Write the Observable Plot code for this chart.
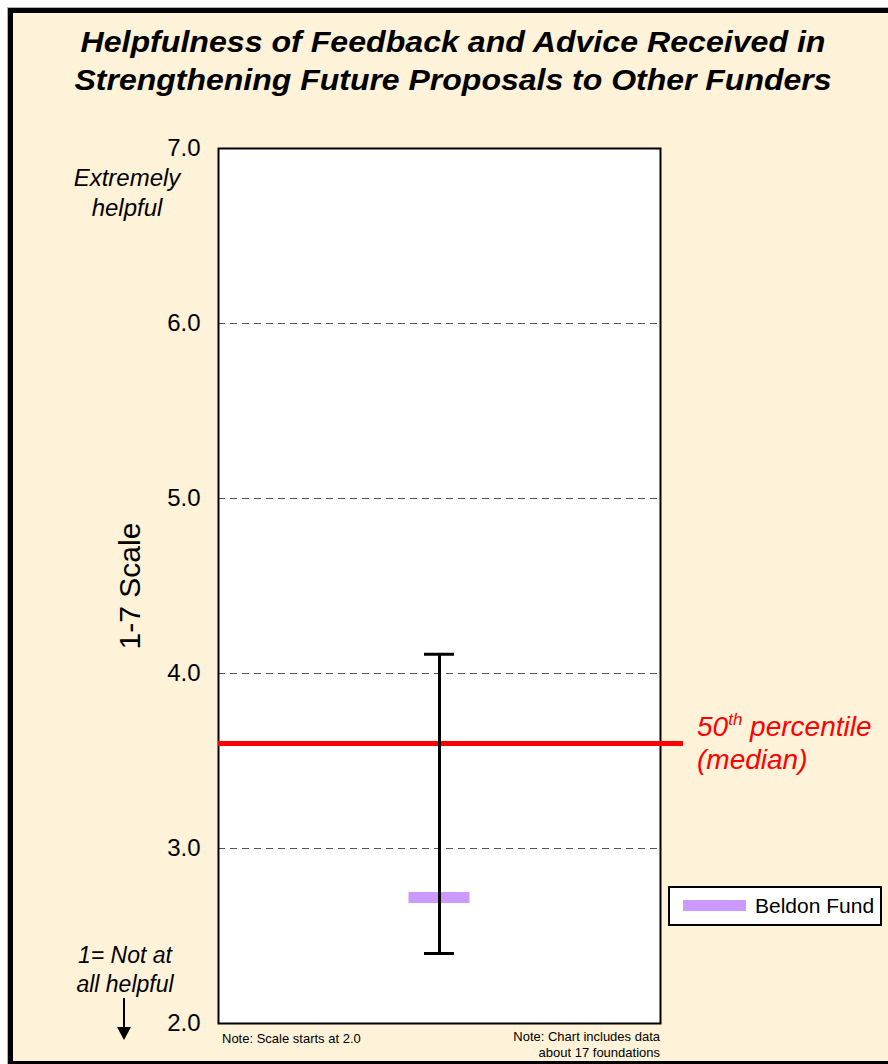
<!DOCTYPE html>
<html>
<head>
<meta charset="utf-8">
<script src="https://cdn.jsdelivr.net/npm/d3@7"></script>
<script src="https://cdn.jsdelivr.net/npm/@observablehq/plot@0.6"></script>
<style>
  body { margin: 0; background: #ffffff; }
  svg { display: block; }
</style>
</head>
<body>
<div id="chart"></div>
<script>
// Grantee ratings on a 1-7 scale
const funds = ["Beldon Fund"];
const fundScores = [2.72];
const rangeLow = [2.40];
const rangeHigh = [4.11];
const medianScore = 3.60;
const yTicks = [2, 3, 4, 5, 6, 7];
const gridTicks = [3, 4, 5, 6];
const foundationCount = 17;

const titleLines = [
  "Helpfulness of Feedback and Advice Received in",
  "Strengthening Future Proposals to Other Funders"
];

const FONT = "'Liberation Sans', Arial, Helvetica, sans-serif";
const CREAM = "#FEF2D8";
const PURPLE = "#CC99FF";

// one row per fund; the fund sits in the middle of the plotting area
const rows = funds.map((name, i) => ({
  name,
  pos: 0.5,
  score: fundScores[i],
  low: rangeLow[i],
  high: rangeHigh[i]
}));

const capHalf = 0.034;
const markHalf = 0.069;

const plot = Plot.plot({
  width: 888,
  height: 1064,
  marginLeft: 218,
  marginRight: 228,
  marginTop: 148,
  marginBottom: 41,
  style: { background: "transparent", fontFamily: FONT, overflow: "visible" },
  x: { domain: [0, 1], axis: null },
  y: { domain: [2, 7] },
  marks: [
    Plot.frame({ fill: "white" }),
    Plot.ruleY(gridTicks, { stroke: "#555", strokeWidth: 1, strokeDasharray: "7,5" }),
    Plot.frame({ stroke: "black", strokeWidth: 2 }),
    Plot.axisY({
      ticks: yTicks,
      tickFormat: d => d.toFixed(1),
      tickSize: 0,
      tickPadding: 18,
      fontSize: 24,
      fill: "black",
      label: null
    }),
    // median across foundations
    Plot.ruleY([medianScore], { x1: 0, x2: 1.052, stroke: "#FF0000", strokeWidth: 5, clip: false }),
    // fund score marker
    Plot.ruleY(rows, {
      y: "score",
      x1: d => d.pos - markHalf,
      x2: d => d.pos + markHalf,
      stroke: PURPLE,
      strokeWidth: 11
    }),
    // range across foundations
    Plot.ruleX(rows, { x: "pos", y1: "low", y2: "high", stroke: "black", strokeWidth: 3 }),
    Plot.ruleY(rows, { y: "high", x1: d => d.pos - capHalf, x2: d => d.pos + capHalf, stroke: "black", strokeWidth: 3 }),
    Plot.ruleY(rows, { y: "low", x1: d => d.pos - capHalf, x2: d => d.pos + capHalf, stroke: "black", strokeWidth: 3 })
  ]
});

const svg = d3.select(plot);
const sy = plot.scale("y");
const sx = plot.scale("x");

// panel background and border, placed behind everything
const bg = svg.insert("g", ":first-child");
bg.append("rect").attr("x", 7).attr("y", 7).attr("width", 881).attr("height", 1057).attr("fill", "#b0b0b0");
bg.append("rect").attr("x", 8).attr("y", 8).attr("width", 880).attr("height", 1056).attr("fill", "black");
bg.append("rect").attr("x", 13).attr("y", 13).attr("width", 875).attr("height", 1048).attr("fill", CREAM);

const ann = svg.append("g").attr("font-family", FONT).attr("text-anchor", "start");

// title
const titleWidths = [745, 757];
ann.append("text")
  .attr("x", 453).attr("y", 52)
  .attr("text-anchor", "middle")
  .attr("font-size", 30).attr("font-weight", "bold").attr("font-style", "italic")
  .attr("fill", "black")
  .selectAll("tspan").data(titleLines).join("tspan")
  .attr("x", 453).attr("dy", (d, i) => i ? 38 : 0)
  .attr("textLength", (d, i) => titleWidths[i])
  .attr("lengthAdjust", "spacingAndGlyphs")
  .text(d => d);

// axis title
ann.append("text")
  .attr("transform", "translate(140,586) rotate(-90)")
  .attr("text-anchor", "middle")
  .attr("font-size", 30)
  .attr("fill", "black")
  .text("1-7 Scale");

// scale end descriptions
const topY = sy.apply(7);
ann.append("text")
  .attr("x", 127).attr("y", topY + 38)
  .attr("text-anchor", "middle").attr("font-size", 24).attr("font-style", "italic").attr("fill", "black")
  .selectAll("tspan").data(["Extremely", "helpful"]).join("tspan")
  .attr("x", 127).attr("dy", (d, i) => i ? 30 : 0).text(d => d);

const botY = sy.apply(2);
ann.append("text")
  .attr("x", 125).attr("y", botY - 60)
  .attr("text-anchor", "middle").attr("font-size", 23).attr("font-style", "italic").attr("fill", "black")
  .selectAll("tspan").data(["1= Not at", "all helpful"]).join("tspan")
  .attr("x", 125).attr("dy", (d, i) => i ? 29 : 0).text(d => d);

// downward arrow
ann.append("line")
  .attr("x1", 124).attr("x2", 124).attr("y1", botY - 25).attr("y2", botY + 6)
  .attr("stroke", "black").attr("stroke-width", 2);
ann.append("path")
  .attr("d", `M117,${botY + 4} L131,${botY + 4} L124,${botY + 17} Z`)
  .attr("fill", "black");

// median label
const medY = sy.apply(medianScore);
const medLabel = ann.append("text")
  .attr("x", 697).attr("y", medY - 7)
  .attr("text-anchor", "start")
  .attr("font-size", 28).attr("font-style", "italic").attr("fill", "#FF0000");
medLabel.append("tspan").text("50");
medLabel.append("tspan").attr("font-size", 17).attr("dy", -11).text("th");
medLabel.append("tspan").attr("dy", 11).text(" percentile");
ann.append("text")
  .attr("x", 697).attr("y", medY + 26)
  .attr("text-anchor", "start")
  .attr("font-size", 28).attr("font-style", "italic").attr("fill", "#FF0000")
  .text("(median)");

// legend
const lg = ann.append("g");
lg.append("rect").attr("x", 669).attr("y", 887).attr("width", 212).attr("height", 38)
  .attr("fill", "white").attr("stroke", "black").attr("stroke-width", 2);
lg.append("rect").attr("x", 683).attr("y", 900).attr("width", 63).attr("height", 11).attr("fill", PURPLE);
lg.append("text").attr("x", 755).attr("y", 913).attr("text-anchor", "start")
  .attr("font-size", 21).attr("fill", "black").text(funds[0]);

// footnotes
ann.append("text")
  .attr("x", sx.apply(0) + 4).attr("y", botY + 20)
  .attr("text-anchor", "start")
  .attr("font-size", 13).attr("fill", "black")
  .text("Note: Scale starts at 2.0");
ann.append("text")
  .attr("x", sx.apply(1)).attr("y", botY + 18)
  .attr("text-anchor", "end").attr("font-size", 13).attr("fill", "black")
  .selectAll("tspan").data(["Note: Chart includes data", `about ${foundationCount} foundations`]).join("tspan")
  .attr("x", sx.apply(1)).attr("dy", (d, i) => i ? 16 : 0).text(d => d);

document.getElementById("chart").appendChild(plot);
</script>
</body>
</html>
